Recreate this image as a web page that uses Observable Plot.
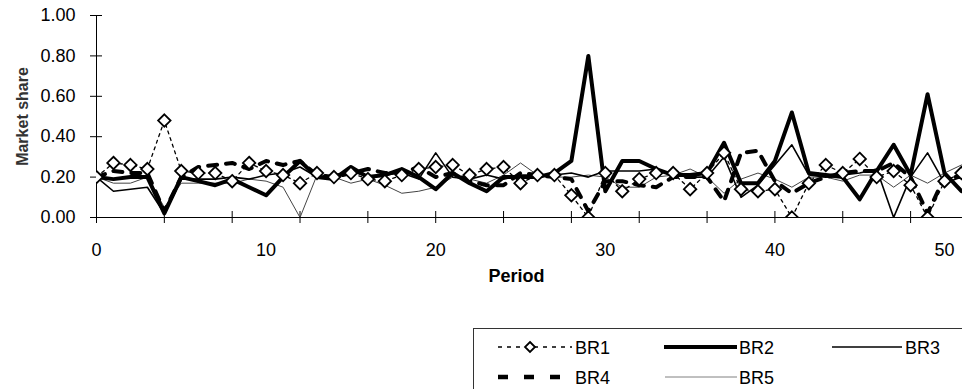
<!DOCTYPE html>
<html>
<head>
<meta charset="utf-8">
<script src="https://cdn.jsdelivr.net/npm/d3@7"></script>
<script src="https://cdn.jsdelivr.net/npm/@observablehq/plot@0.6"></script>
<style>
  html, body { margin: 0; padding: 0; background: #fff; }
  #chart { width: 962px; height: 389px; overflow: hidden; font-family: "Liberation Sans", Arial, sans-serif; }
  #chart svg { display: block; }
</style>
</head>
<body>
<div id="chart"></div>
<script>
// ---- data ----
const periods = d3.range(0, 52);
const seriesNames = ["BR1", "BR2", "BR3", "BR4", "BR5"];
const br1 = [0.20,0.27,0.26,0.24,0.48,0.23,0.22,0.22,0.18,0.27,0.23,0.21,0.17,0.22,0.20,0.22,0.19,0.18,0.21,0.24,0.25,0.26,0.21,0.24,0.25,0.17,0.21,0.21,0.11,0.00,0.22,0.13,0.19,0.22,0.22,0.14,0.22,0.32,0.14,0.13,0.14,0.00,0.17,0.26,0.22,0.29,0.20,0.23,0.16,0.00,0.18,0.22];
const br2 = [0.20,0.19,0.20,0.20,0.02,0.20,0.18,0.16,0.19,0.15,0.11,0.20,0.28,0.20,0.19,0.25,0.20,0.21,0.24,0.20,0.14,0.22,0.17,0.13,0.20,0.20,0.20,0.22,0.28,0.80,0.13,0.28,0.28,0.24,0.21,0.21,0.22,0.37,0.17,0.17,0.28,0.52,0.22,0.21,0.20,0.09,0.23,0.36,0.21,0.61,0.22,0.13];
const br3 = [0.20,0.13,0.14,0.15,0.02,0.19,0.19,0.19,0.20,0.19,0.21,0.22,0.25,0.20,0.21,0.23,0.20,0.21,0.22,0.19,0.32,0.20,0.19,0.21,0.19,0.21,0.21,0.21,0.22,0.20,0.23,0.23,0.23,0.24,0.21,0.20,0.20,0.30,0.10,0.16,0.26,0.36,0.21,0.20,0.21,0.22,0.24,0.00,0.20,0.32,0.17,0.20];
const br4 = [0.20,0.23,0.22,0.22,0.03,0.20,0.25,0.26,0.27,0.24,0.28,0.26,0.28,0.21,0.20,0.22,0.24,0.22,0.22,0.25,0.20,0.22,0.18,0.16,0.16,0.22,0.21,0.20,0.19,0.03,0.18,0.18,0.16,0.15,0.20,0.20,0.20,0.08,0.32,0.33,0.18,0.12,0.17,0.20,0.22,0.23,0.23,0.27,0.20,0.02,0.20,0.20];
const br5 = [0.20,0.17,0.17,0.20,0.05,0.17,0.17,0.17,0.17,0.19,0.18,0.15,0.00,0.21,0.20,0.17,0.19,0.16,0.12,0.13,0.15,0.20,0.19,0.17,0.21,0.27,0.21,0.20,0.20,0.21,0.20,0.15,0.15,0.20,0.21,0.24,0.20,0.12,0.19,0.22,0.19,0.15,0.20,0.20,0.18,0.21,0.21,0.15,0.21,0.17,0.22,0.26];
const yTicks = [0, 0.2, 0.4, 0.6, 0.8, 1.0];
const xTickMarks = d3.range(0, 52, 4);
const xTickLabels = [0, 10, 20, 30, 40, 50];
const xTitle = "Period";
const yTitle = "Market share";

// ---- build table ----
const valuesByName = {BR1: br1, BR2: br2, BR3: br3, BR4: br4, BR5: br5};
const rows = seriesNames.flatMap(name => periods.map((p, i) => ({series: name, period: p, share: valuesByName[name][i]})));
const ofSeries = name => rows.filter(d => d.series === name);

const W = 962, H = 320;
const plot = Plot.plot({
  width: W,
  height: H,
  marginLeft: 96,
  marginRight: 0,
  marginTop: 15,
  marginBottom: 103,
  style: {fontFamily: '"Liberation Sans", Arial, sans-serif', fontSize: "18px", color: "#000", background: "#fff"},
  x: {domain: [0, 51.06]},
  y: {domain: [0, 1]},
  marks: [
    // axis lines
    Plot.ruleY([0], {stroke: "#000", strokeWidth: 1}),
    Plot.ruleX([0], {stroke: "#000", strokeWidth: 1}),
    // crossing tick marks
    Plot.ruleX(xTickMarks, {x: d => d, y1: 0, y2: 0, insetTop: -6, insetBottom: -6, stroke: "#000", strokeWidth: 1}),
    Plot.ruleY(yTicks, {y: d => d, x1: 0, x2: 0, insetLeft: -6, insetRight: -6, stroke: "#000", strokeWidth: 1}),
    // series
    Plot.line(ofSeries("BR5"), {x: "period", y: "share", stroke: "#444", strokeWidth: 1, clip: true}),
    Plot.line(ofSeries("BR4"), {x: "period", y: "share", stroke: "#000", strokeWidth: 4, strokeDasharray: "9,9", clip: true}),
    Plot.line(ofSeries("BR3"), {x: "period", y: "share", stroke: "#000", strokeWidth: 1.6, clip: true}),
    Plot.line(ofSeries("BR2"), {x: "period", y: "share", stroke: "#000", strokeWidth: 4, clip: true}),
    Plot.line(ofSeries("BR1"), {x: "period", y: "share", stroke: "#000", strokeWidth: 1.3, strokeDasharray: "3,4", clip: true}),
    Plot.dot(ofSeries("BR1"), {x: "period", y: "share", symbol: "diamond2", r: 5.6, fill: "#fff", stroke: "#000", strokeWidth: 1.8, clip: true}),
    // axes
    Plot.axisY(yTicks, {tickSize: 0, tickPadding: 21, tickFormat: d3.format(".2f"), fontSize: 18, label: null}),
    Plot.axisX(xTickLabels, {tickSize: 0, tickPadding: 26, tickFormat: d => String(d), fontSize: 18, label: null}),
    // axis titles
    Plot.text([xTitle], {frameAnchor: "bottom", lineAnchor: "middle", dy: 59, dx: -13, fontWeight: "bold", fontSize: 18, fill: "#000"}),
    Plot.text([yTitle], {frameAnchor: "left", rotate: -90, lineAnchor: "middle", textAnchor: "middle", dx: -74, fontWeight: "bold", fontSize: 16, fill: "#333"})
  ]
});
document.getElementById("chart").appendChild(plot);

// ---- legend below the plot ----
const legend = d3.create("svg").attr("width", W).attr("height", 389 - H)
  .style("font-family", '"Liberation Sans", Arial, sans-serif').style("font-size", "18px");
legend.append("rect").attr("x", 473.5).attr("y", 8.5).attr("width", 520).attr("height", 100)
  .attr("fill", "#fff").attr("stroke", "#333").attr("stroke-width", 1);
const legendItems = [
  {name: "BR1", x0: 498, x1: 572, tx: 575, row: 0, width: 1.5, dash: "4,5", stroke: "#000", marker: true},
  {name: "BR2", x0: 664, x1: 737, tx: 739, row: 0, width: 4, dash: null, stroke: "#000"},
  {name: "BR3", x0: 832, x1: 902, tx: 905, row: 0, width: 1.6, dash: null, stroke: "#000"},
  {name: "BR4", x0: 498, x1: 562, tx: 575, row: 1, width: 4.5, dash: "10,16", stroke: "#000"},
  {name: "BR5", x0: 665, x1: 737, tx: 739, row: 1, width: 1, dash: null, stroke: "#808080"}
];
for (const it of legendItems) {
  const cy = it.row === 0 ? 27 : 57;
  const ln = legend.append("line").attr("x1", it.x0).attr("x2", it.x1).attr("y1", cy).attr("y2", cy)
    .attr("stroke", it.stroke).attr("stroke-width", it.width);
  if (it.dash) ln.attr("stroke-dasharray", it.dash);
  if (it.marker) {
    const mx = (it.x0 + it.x1) / 2 - 5, r = 5;
    legend.append("path").attr("d", `M${mx},${cy - r}L${mx + r},${cy}L${mx},${cy + r}L${mx - r},${cy}Z`)
      .attr("fill", "#fff").attr("stroke", "#000").attr("stroke-width", 1.8);
  }
  legend.append("text").attr("x", it.tx).attr("y", cy + 6.5).attr("fill", "#000").text(it.name);
}
document.getElementById("chart").appendChild(legend.node());
</script>
</body>
</html>
